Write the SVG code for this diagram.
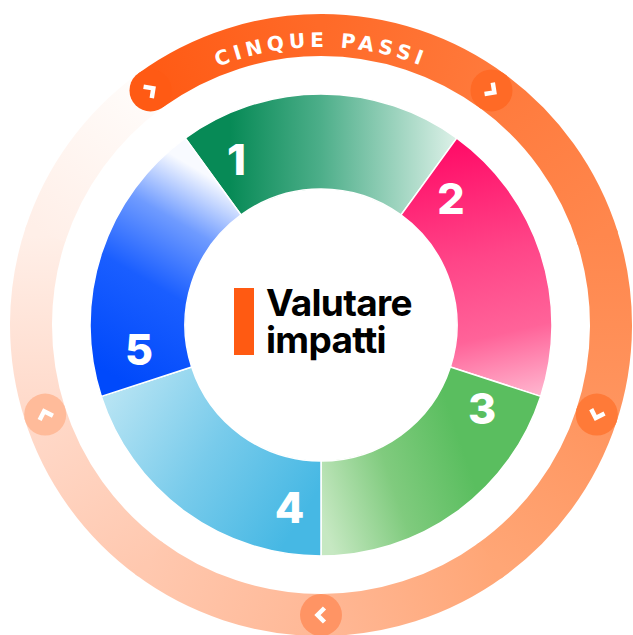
<svg xmlns="http://www.w3.org/2000/svg" xmlns:xlink="http://www.w3.org/1999/xlink" width="633" height="635" viewBox="0 0 633 635">
<style>
.arc{fill:none;stroke-width:42}
.chev{fill:none;stroke:#fff;stroke-width:4.5;stroke-linecap:butt;stroke-linejoin:miter}
.seg{stroke:#fff;stroke-width:1.5}
.num{font-family:Inter,"Liberation Sans",sans-serif;font-weight:800;font-size:43px;fill:#fff;text-anchor:middle}
.title{font-family:Inter,"Liberation Sans",sans-serif;font-weight:700;font-size:37px;fill:#000;letter-spacing:-0.7px}
.band{font-family:"DejaVu Sans","Liberation Sans",sans-serif;font-weight:700;font-size:20px;fill:#fff;letter-spacing:4.6px}
</style>
<defs>
<linearGradient id="r0" gradientUnits="userSpaceOnUse" x1="290" y1="0" x2="234.6" y2="170.5"><stop offset="0" stop-color="#ff5a14"/><stop offset="1" stop-color="#ff6a28"/></linearGradient>
<linearGradient id="r1" gradientUnits="userSpaceOnUse" x1="290" y1="0" x2="234.6" y2="170.5"><stop offset="0" stop-color="#ff6a28"/><stop offset="1" stop-color="#ff7a3c"/></linearGradient>
<linearGradient id="r2" gradientUnits="userSpaceOnUse" x1="290" y1="0" x2="234.6" y2="170.5"><stop offset="0" stop-color="#ff7a3c"/><stop offset="1" stop-color="#ff874d"/></linearGradient>
<linearGradient id="r3" gradientUnits="userSpaceOnUse" x1="290" y1="0" x2="234.6" y2="170.5"><stop offset="0" stop-color="#ff874d"/><stop offset="1" stop-color="#ff955f"/></linearGradient>
<linearGradient id="r4" gradientUnits="userSpaceOnUse" x1="290" y1="0" x2="234.6" y2="170.5"><stop offset="0" stop-color="#ff955f"/><stop offset="1" stop-color="#ffa676"/></linearGradient>
<linearGradient id="r5" gradientUnits="userSpaceOnUse" x1="290" y1="0" x2="234.6" y2="170.5"><stop offset="0" stop-color="#ffa676"/><stop offset="1" stop-color="#ffb896"/></linearGradient>
<linearGradient id="r6" gradientUnits="userSpaceOnUse" x1="290" y1="0" x2="234.6" y2="170.5"><stop offset="0" stop-color="#ffb896"/><stop offset="1" stop-color="#ffc8af"/></linearGradient>
<linearGradient id="r7" gradientUnits="userSpaceOnUse" x1="290" y1="0" x2="234.6" y2="170.5"><stop offset="0" stop-color="#ffc8af"/><stop offset="1" stop-color="#ffd9c9"/></linearGradient>
<linearGradient id="r8" gradientUnits="userSpaceOnUse" x1="290" y1="0" x2="234.6" y2="170.5"><stop offset="0" stop-color="#ffd9c9"/><stop offset="1" stop-color="#ffefe8"/></linearGradient>
<linearGradient id="r9" gradientUnits="userSpaceOnUse" x1="290" y1="0" x2="234.6" y2="170.5"><stop offset="0" stop-color="#ffefe8"/><stop offset="1" stop-color="#fffcfa"/></linearGradient>
<linearGradient id="g1" gradientUnits="userSpaceOnUse" x1="230" y1="160" x2="455" y2="160"><stop offset="0" stop-color="#078a56"/><stop offset="0.4" stop-color="#4cae89"/><stop offset="1" stop-color="#dbf0e7"/></linearGradient>
<linearGradient id="g2" gradientUnits="userSpaceOnUse" x1="450" y1="140" x2="510" y2="400"><stop offset="0" stop-color="#ff0a66"/><stop offset="0.45" stop-color="#ff4588"/><stop offset="0.75" stop-color="#ff6399"/><stop offset="1" stop-color="#ffb3cd"/></linearGradient>
<linearGradient id="g3" gradientUnits="userSpaceOnUse" x1="322" y1="520" x2="470" y2="470"><stop offset="0" stop-color="#c6e8c2"/><stop offset="0.5" stop-color="#80cb7e"/><stop offset="1" stop-color="#5abe5f"/></linearGradient>
<linearGradient id="g4" gradientUnits="userSpaceOnUse" x1="110" y1="400" x2="300" y2="520"><stop offset="0" stop-color="#b5e3f3"/><stop offset="0.5" stop-color="#78cbeb"/><stop offset="1" stop-color="#46b8e4"/></linearGradient>
<linearGradient id="g5" gradientUnits="userSpaceOnUse" x1="120" y1="380" x2="232" y2="190"><stop offset="0" stop-color="#0049fb"/><stop offset="0.45" stop-color="#1a5eff"/><stop offset="0.75" stop-color="#6f9bff"/><stop offset="1" stop-color="#f8faff"/></linearGradient>
<path id="bandPath" d="M 80.25 186 A 278 278 0 0 1 561.75 186"/>
<path id="chev" class="chev" d="M 3.5 -7 L -3.5 0 L 3.5 7"/>
</defs>
<rect width="633" height="635" fill="#fff"/>
<g id="outer-ring" transform="translate(321 325)">
<circle class="arc" r="290" pathLength="360" stroke-dasharray="36.7 400" stroke="url(#r0)" transform="rotate(-126)"/>
<circle class="arc" r="290" pathLength="360" stroke-dasharray="36.7 400" stroke="url(#r1)" transform="rotate(-90)"/>
<circle class="arc" r="290" pathLength="360" stroke-dasharray="36.7 400" stroke="url(#r2)" transform="rotate(-54)"/>
<circle class="arc" r="290" pathLength="360" stroke-dasharray="36.7 400" stroke="url(#r3)" transform="rotate(-18)"/>
<circle class="arc" r="290" pathLength="360" stroke-dasharray="36.7 400" stroke="url(#r4)" transform="rotate(18)"/>
<circle class="arc" r="290" pathLength="360" stroke-dasharray="36.7 400" stroke="url(#r5)" transform="rotate(54)"/>
<circle class="arc" r="290" pathLength="360" stroke-dasharray="36.7 400" stroke="url(#r6)" transform="rotate(90)"/>
<circle class="arc" r="290" pathLength="360" stroke-dasharray="36.7 400" stroke="url(#r7)" transform="rotate(126)"/>
<circle class="arc" r="290" pathLength="360" stroke-dasharray="36.7 400" stroke="url(#r8)" transform="rotate(162)"/>
<circle class="arc" r="290" pathLength="360" stroke-dasharray="36 400" stroke="url(#r9)" transform="rotate(198)"/>
</g>
<g id="band-label">
<text class="band"><textPath href="#bandPath" startOffset="50%" text-anchor="middle">CINQUE PASSI</textPath></text>
</g>
<g id="step-start" transform="translate(150.5 90.4)">
<circle r="21" fill="#ff5a14"/>
<use href="#chev" transform="rotate(144)"/>
</g>
<g id="step-mark-2" transform="translate(491.5 90.4)">
<circle r="21" fill="#ff6a26"/>
<use href="#chev" transform="rotate(-144)"/>
</g>
<g id="step-mark-3" transform="translate(596.8 414.6)">
<circle r="21" fill="#ff7a38"/>
<use href="#chev" transform="rotate(-72)"/>
</g>
<g id="step-mark-4" transform="translate(321 615)">
<circle r="21" fill="#ff9464"/>
<use href="#chev"/>
</g>
<g id="step-mark-5" transform="translate(45.2 414.6)">
<circle r="21" fill="#ffbb9a"/>
<use href="#chev" transform="rotate(72)"/>
</g>
<g id="seg1">
<path class="seg" fill="url(#g1)" d="M 185.22 138.12 A 231 231 0 0 1 456.78 138.12 L 400.94 214.97 A 136 136 0 0 0 241.06 214.97 Z"/>
<text class="num" x="236.5" y="175">1</text>
</g>
<g id="seg2">
<path class="seg" fill="url(#g2)" d="M 456.78 138.12 A 231 231 0 0 1 540.69 396.38 L 450.34 367.03 A 136 136 0 0 0 400.94 214.97 Z"/>
<text class="num" x="451" y="214">2</text>
</g>
<g id="seg3">
<path class="seg" fill="url(#g3)" d="M 540.69 396.38 A 231 231 0 0 1 321 556 L 321 461 A 136 136 0 0 0 450.34 367.03 Z"/>
<text class="num" x="482" y="424">3</text>
</g>
<g id="seg4">
<path class="seg" fill="url(#g4)" d="M 321 556 A 231 231 0 0 1 101.31 396.38 L 191.66 367.03 A 136 136 0 0 0 321 461 Z"/>
<text class="num" x="289.5" y="523">4</text>
</g>
<g id="seg5">
<path class="seg" fill="url(#g5)" d="M 101.31 396.38 A 231 231 0 0 1 185.22 138.12 L 241.06 214.97 A 136 136 0 0 0 191.66 367.03 Z"/>
<text class="num" x="139" y="365">5</text>
</g>
<g id="center">
<rect x="234" y="288" width="20" height="67" fill="#ff5a12"/>
<text class="title" x="266" y="316">Valutare</text>
<text class="title" x="266" y="353">impatti</text>
</g>
</svg>
